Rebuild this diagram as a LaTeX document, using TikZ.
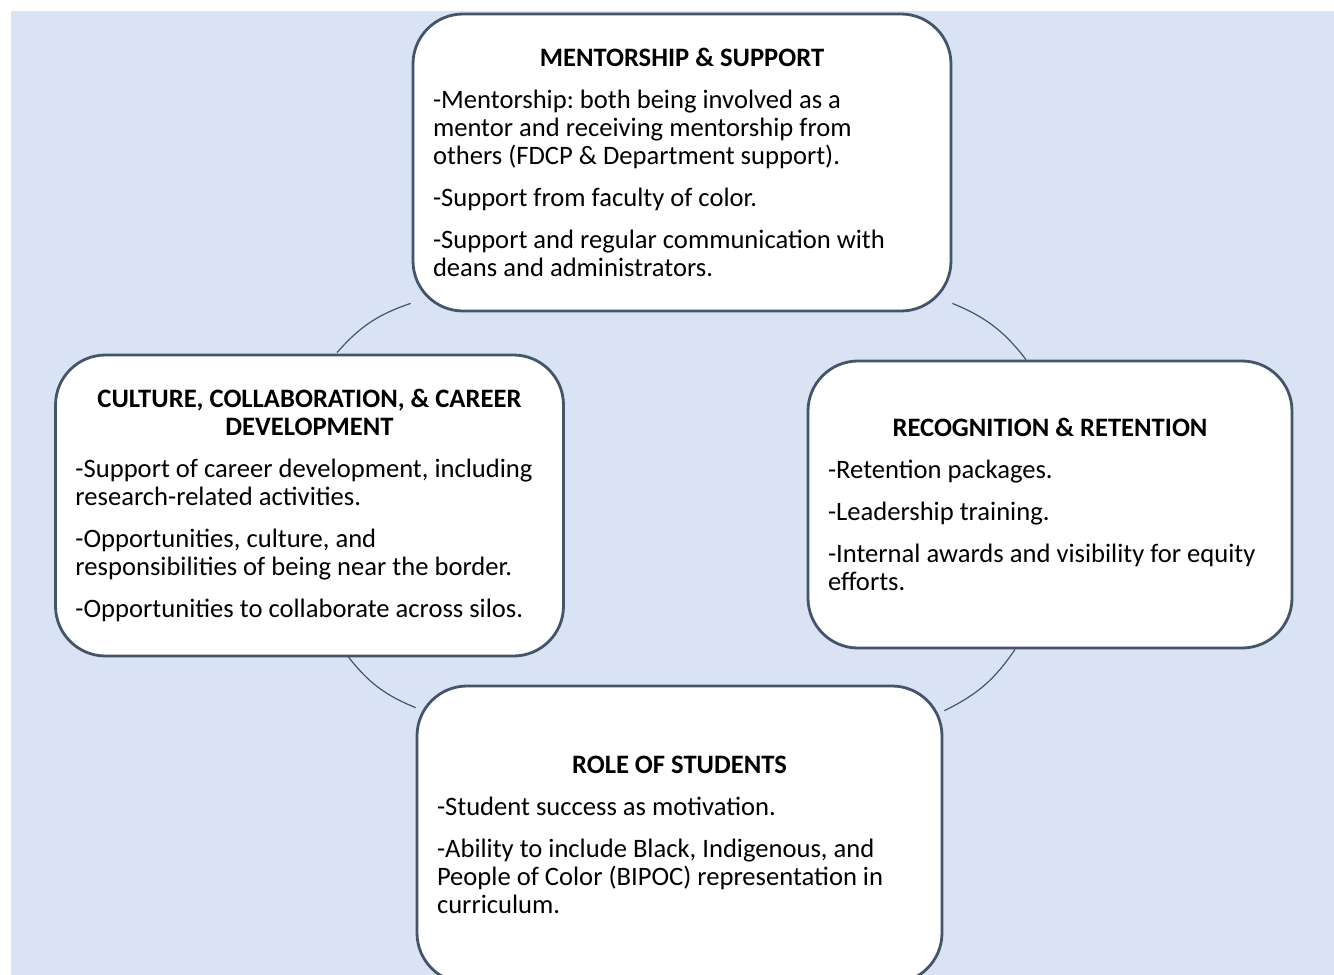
\documentclass[tikz,border=0pt]{standalone}
\usepackage{fontspec}
\setmainfont{Carlito}
\usepackage{tikz}
\usepackage{xcolor}
\definecolor{BackBlue}{HTML}{DAE3F3}
\definecolor{LineSlate}{HTML}{44546A}
\newcommand{\Head}[1]{{\centering\bfseries #1\par}\vspace{7pt}}

\begin{document}
\begin{tikzpicture}[x=0.5pt,y=-0.5pt]
        \tikzset{VertexStyle/.style={draw=LineSlate, line width=1.4pt, fill=white, rounded corners=25pt,
                   align=flush left, inner xsep=10pt, inner ysep=0pt, font=\fontsize{13.3}{14}\selectfont\frenchspacing}}
        \tikzset{EdgeStyle/.style={draw=LineSlate, line width=0.6pt, bend right=15}}
        \useasboundingbox (0,0) rectangle (1334,975);
        \fill[BackBlue] (11,11) rectangle (1334,975);
        \node[VertexStyle, text width=249pt, minimum height=148.5pt] (Ment) at (682,162.5) {\Head{MENTORSHIP \& SUPPORT}
            -Mentorship: both being involved as a\\ mentor and receiving mentorship from\\ others (FDCP \& Department support).\\[7pt]
            -Support from faculty of color.\\[7pt]
            -Support and regular communication with\\ deans and administrators.};
        \node[VertexStyle, text width=234pt, minimum height=150.5pt] (Cult) at (309.5,505.5) {\Head{CULTURE, COLLABORATION, \& CAREER\\ DEVELOPMENT}
            -Support of career development, including\\ research-related activities.\\[7pt]
            -Opportunities, culture, and\\ responsibilities of being near the border.\\[7pt]
            -Opportunities to collaborate across silos.};
        \node[VertexStyle, text width=222pt, minimum height=143.5pt] (Recog) at (1050,504.5) {\Head{RECOGNITION \& RETENTION}
            -Retention packages.\\[7pt]
            -Leadership training.\\[7pt]
            -Internal awards and visibility for equity\\ efforts.};
        \node[VertexStyle, text width=242.5pt, minimum height=148.5pt] (Stud) at (679.5,834.5) {\Head{ROLE OF STUDENTS}
            -Student success as motivation.\\[7pt]
            -Ability to include Black, Indigenous, and\\ People of Color (BIPOC) representation in\\ curriculum.};
        \draw[EdgeStyle] ([shift={(-1,-9)}]Ment.south west) to ([shift={(27.5,-1)}]Cult.north);
        \draw[EdgeStyle] ([shift={(38.5,-1)}]Cult.south) to ([shift={(0,23)}]Stud.north west);
        \draw[EdgeStyle] ([shift={(1,26)}]Stud.north east) to ([shift={(-35,0)}]Recog.south);
        \draw[EdgeStyle] ([shift={(-24,0)}]Recog.north) to ([shift={(0,-9)}]Ment.south east);
    \end{tikzpicture}
\end{document}
